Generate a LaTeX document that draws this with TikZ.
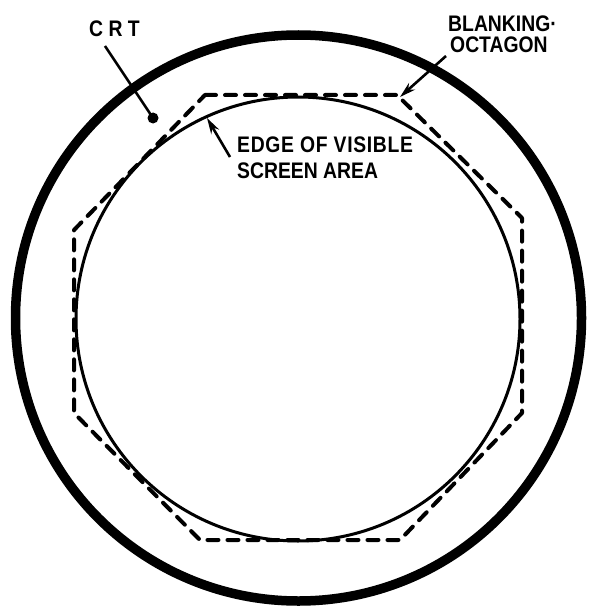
\documentclass[tikz,border=0pt]{standalone}
\usepackage{fontspec}
\newfontfamily\labfont{Liberation Sans}[FakeStretch=0.86]
\usetikzlibrary{arrows.meta}
\begin{document}
\begin{tikzpicture}[x=1pt,y=-1pt,
  lab/.style={inner sep=0pt, anchor=base west, font=\labfont\fontsize{22.5}{25}\selectfont\bfseries},
  leader/.style={line width=2.6pt},
  tube/.style={line width=9.5pt},
  screen/.style={line width=3pt},
  octo/.style={line width=4pt, dash pattern=on 11pt off 9pt, line cap=round, line join=round},
  tip/.style={-{Stealth[length=16pt,width=9pt]}}]
\useasboundingbox (0,0) rectangle (589,607);
\fill[white] (0,0) rectangle (589,607);

% CRT envelope and visible screen
\coordinate (c0) at (298.5,318);
\coordinate (c1) at (298,319);
\draw[tube] (c0) circle[radius=283];
\draw[screen] (c1) circle[radius=222];

% blanking octagon
\coordinate (o1) at (205,95);
\coordinate (o2) at (397,95);
\coordinate (o3) at (522,218);
\coordinate (o4) at (522,413);
\coordinate (o5) at (400,540);
\coordinate (o6) at (200,540);
\coordinate (o7) at (74,413);
\coordinate (o8) at (74,230);
\draw[octo] (o1) -- (o2) -- (o3) -- (o4) -- (o5) -- (o6) -- (o7) -- (o8) -- cycle;

% labels
\node[lab] (crt) at (89,36.5) {C R T};
\node[lab] (blank) at (448,32) {BLANKING·};
\node[lab] (oct) at (450,53) {OCTAGON};
\node[lab,font=\labfont\fontsize{22.5}{25}\selectfont\bfseries\addfontfeature{LetterSpace=3}] (edge1) at (237,152) {EDGE OF VISIBLE};
\node[lab] (edge2) at (237,178) {SCREEN AREA};

% leaders
\coordinate (crtstart) at (105,46);
\coordinate (crtdot) at (153,118);
\draw[leader] (crtstart) -- (crtdot);
\fill (crtdot) circle[radius=5.5];

\coordinate (blstart) at (446,56);
\coordinate (bltip) at (400,97);
\draw[leader,tip] (blstart) -- (bltip);

\coordinate (edstart) at (230,157);
\coordinate (edtip) at (207,118);
\draw[leader,tip] (edstart) -- (edtip);
\end{tikzpicture}
\end{document}
